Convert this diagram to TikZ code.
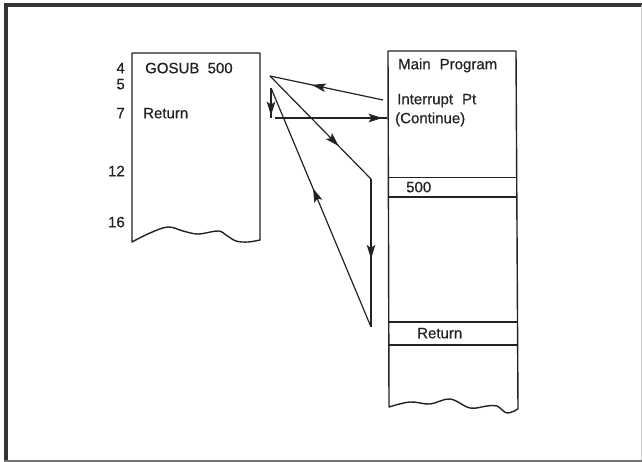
\documentclass[tikz,border=0pt]{standalone}
\usepackage{fontspec}
\setmainfont{Liberation Sans}[FakeBold=0.5]
\usetikzlibrary{arrows.meta,decorations.markings}
\definecolor{ink}{HTML}{222222}
\begin{document}
\begin{tikzpicture}[x=1pt,y=-1pt,
  ln/.style={line width=1.4pt, draw=ink, line join=round},
  conn/.style={line width=1.2pt, draw=ink},
  txt/.style={inner sep=0pt, text height=10.5pt, text depth=0pt, font=\fontsize{15}{17}\selectfont, text=ink},
  numlbl/.style={txt, anchor=east},
  boxlbl/.style={txt, anchor=west},
  headtip/.tip={Stealth[length=14pt,width=8.5pt,inset=3pt]},
  midarrow/.style={decoration={markings, mark=at position #1 with {\arrow[ink]{headtip}}}, postaction={decorate}}
]
\useasboundingbox (0,0) rectangle (642,462);
% outer frame
\draw[line width=4pt, draw=black!80, line cap=rect] (6,460) -- (6,5.5) -- (642,5.5);
\draw[line width=2.5pt, draw=black!55] (4,460.8) -- (642,460.8);
\draw[line width=0.8pt, draw=black!20] (641,5.5) -- (641,460);

% left program (subroutine listing)
\draw[ln] plot[smooth, tension=0.6] coordinates {(132,242) (150,233) (168,227) (183,231) (198,234) (218,231) (226,235) (236,241) (248,242) (260,240)} -- (260,53) -- (132,53) -- cycle;
\node[numlbl] (n4) at (125,68) {4};
\node[numlbl] (n5) at (125,84) {5};
\node[numlbl] (n7) at (125,113) {7};
\node[numlbl] (n12) at (125,171) {12};
\node[numlbl] (n16) at (125,222) {16};
\node[boxlbl] (gosub) at (145,68) {GOSUB\hspace{0.55em}500};
\node[boxlbl] (lret) at (143,113) {Return};

% right program (main)
\draw[ln] plot[smooth, tension=0.6] coordinates {(389,407) (410,402) (430,404) (450,399) (470,408) (487,406) (497,406) (507,413) (518,409)} -- (516,51) -- (388,51) -- cycle;
\draw[ln] (388,177.5) -- (516.5,177.5);
\draw[ln] (388,197) -- (516.5,197);
\draw[ln] (388,322) -- (517,322);
\draw[ln] (388,345) -- (517,345);
\node[boxlbl] (main) at (398,64) {Main\hspace{0.6em}Program};
\node[boxlbl] (intpt) at (397,99) {Interrupt\hspace{0.6em}Pt};
\node[boxlbl] (cont) at (395,118) {(Continue)};
\node[boxlbl] (s500) at (406,187) {500};
\node[boxlbl] (rret) at (417,333) {Return};

% connector points
\coordinate (ip) at (383,100);
\coordinate (p) at (270,76);
\coordinate (q) at (371,179);
\coordinate (r) at (371,327);
\coordinate (s) at (271,88);
\coordinate (t) at (271,118);
\coordinate (t2) at (275,118);
\coordinate (u) at (387,118);

\draw[conn, midarrow=0.63] (ip) -- (p);
\draw[conn, midarrow=0.68] (p) -- (q);
\draw[conn, midarrow=0.54] (q) -- (r);
\draw[conn, midarrow=0.58] (r) -- (s);
\draw[conn, midarrow=0.92] (s) -- (t);
\draw[conn, midarrow=0.96] (t2) -- (u);
\end{tikzpicture}
\end{document}
